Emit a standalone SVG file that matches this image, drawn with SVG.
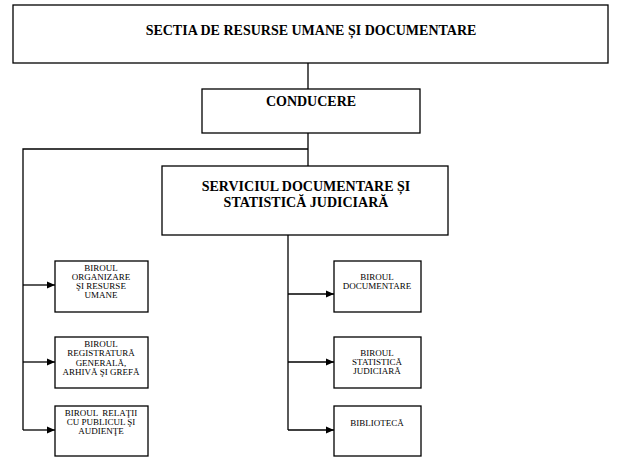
<svg xmlns="http://www.w3.org/2000/svg" width="625" height="468" viewBox="0 0 625 468">
<style>
.box{fill:#fff;stroke:#000;stroke-width:1.3}
.big{font-family:"Liberation Serif","Times New Roman",serif;font-weight:bold;font-size:14px;text-anchor:middle;fill:#000}
.sm{font-family:"Liberation Serif","Times New Roman",serif;font-size:9px;text-anchor:middle;fill:#000}
.ln{fill:none;stroke:#000;stroke-width:1.3}
</style>
<defs>
<marker id="ah" markerWidth="9" markerHeight="9" refX="8" refY="4.5" orient="auto" markerUnits="userSpaceOnUse">
<path d="M0,1 L8,4.5 L0,8 Z" fill="#000"/>
</marker>
</defs>
<rect width="625" height="468" fill="#fff"/>
<g id="connectors">
<path class="ln" d="M308,63 V89"/>
<path class="ln" d="M308,133 V166"/>
<path class="ln" d="M308,149 H23 V430"/>
<path class="ln" d="M288,235 V430"/>
<path class="ln" d="M23,285 H55" marker-end="url(#ah)"/>
<path class="ln" d="M23,362 H55" marker-end="url(#ah)"/>
<path class="ln" d="M23,430 H55" marker-end="url(#ah)"/>
<path class="ln" d="M288,294 H334" marker-end="url(#ah)"/>
<path class="ln" d="M288,362 H334" marker-end="url(#ah)"/>
<path class="ln" d="M288,430 H334" marker-end="url(#ah)"/>
</g>
<g id="sectia">
<rect class="box" x="13" y="5" width="595" height="58"/>
<text class="big" x="311" y="35">SECTIA DE RESURSE UMANE ȘI DOCUMENTARE</text>
</g>
<g id="conducere">
<rect class="box" x="202" y="89" width="218" height="44"/>
<text class="big" x="311" y="106">CONDUCERE</text>
</g>
<g id="serviciul">
<rect class="box" x="162" y="166" width="286" height="69"/>
<text class="big" x="306" y="191">SERVICIUL DOCUMENTARE ȘI</text>
<text class="big" x="306" y="207">STATISTICĂ JUDICIARĂ</text>
</g>
<g id="organizare">
<rect class="box" x="55" y="261" width="93" height="51"/>
<text class="sm" x="101" y="271">BIROUL</text>
<text class="sm" x="101" y="280">ORGANIZARE</text>
<text class="sm" x="101" y="289">ŞI RESURSE</text>
<text class="sm" x="101" y="298">UMANE</text>
</g>
<g id="registratura">
<rect class="box" x="55" y="337" width="93" height="51"/>
<text class="sm" x="101" y="347">BIROUL</text>
<text class="sm" x="101" y="356">REGISTRATURĂ</text>
<text class="sm" x="101" y="365.5">GENERALĂ,</text>
<text class="sm" x="101" y="375">ARHIVĂ ŞI GREFĂ</text>
</g>
<g id="relatii">
<rect class="box" x="55" y="406" width="93" height="50"/>
<text class="sm" x="101" y="416" xml:space="preserve">BIROUL  RELAŢII</text>
<text class="sm" x="101" y="425">CU PUBLICUL ŞI</text>
<text class="sm" x="101" y="434">AUDIENŢE</text>
</g>
<g id="documentare">
<rect class="box" x="334" y="261" width="87" height="51"/>
<text class="sm" x="377" y="280">BIROUL</text>
<text class="sm" x="377" y="289">DOCUMENTARE</text>
</g>
<g id="statistica">
<rect class="box" x="334" y="337" width="87" height="51"/>
<text class="sm" x="377" y="356">BIROUL</text>
<text class="sm" x="377" y="365">STATISTICĂ</text>
<text class="sm" x="377" y="374">JUDICIARĂ</text>
</g>
<g id="biblioteca">
<rect class="box" x="334" y="406" width="87" height="50"/>
<text class="sm" x="377" y="426">BIBLIOTECĂ</text>
</g>
</svg>
